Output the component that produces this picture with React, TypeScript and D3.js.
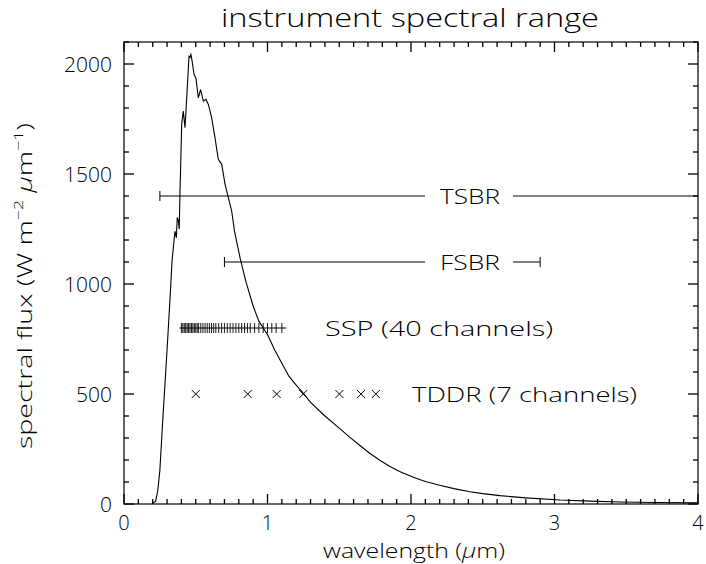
import React from "react";
import * as d3 from "d3";

const wavelength = [0.2, 0.22, 0.235, 0.25, 0.27, 0.3, 0.32, 0.335, 0.355, 0.365, 0.371, 0.378, 0.385, 0.39, 0.397, 0.402, 0.413, 0.425, 0.437, 0.453, 0.46, 0.466, 0.471, 0.48, 0.488, 0.501, 0.518, 0.534, 0.553, 0.571, 0.588, 0.611, 0.634, 0.657, 0.681, 0.704, 0.727, 0.75, 0.77, 0.81, 0.85, 0.9, 0.94, 0.96, 0.98, 1.0, 1.05, 1.1, 1.15, 1.2, 1.25, 1.3, 1.4, 1.5, 1.57, 1.64, 1.71, 1.78, 1.85, 1.92, 2.03, 2.1, 2.2, 2.3, 2.41, 2.5, 2.62, 2.8, 3.04, 3.25, 3.46, 3.7, 4.0];
const flux = [5, 12, 60, 154, 380, 700, 925, 1106, 1240, 1210, 1302, 1290, 1250, 1410, 1591, 1727, 1786, 1710, 1846, 2035, 2030, 2043, 2028, 1990, 1952, 1937, 1846, 1884, 1831, 1839, 1816, 1755, 1665, 1567, 1544, 1454, 1393, 1333, 1240, 1115, 1010, 900, 830, 811, 790, 770, 700, 640, 580, 540, 503, 462, 400, 345, 305, 268, 232, 200, 172, 148, 118, 102, 85, 70, 56, 47, 38, 28, 18, 13, 9, 7, 5];

const xTickLabels = [0, 1, 2, 3, 4];
const yTickLabels = [0, 500, 1000, 1500, 2000];

const tsbrRange = [0.25, 4.0];
const tsbrLevel = 1400;
const fsbrRange = [0.7, 2.9];
const fsbrLevel = 1100;
const sspRange = [0.4, 1.13];
const sspLevel = 800;
const sspChannels = [0.40, 0.41, 0.42, 0.43, 0.44, 0.45, 0.46, 0.47, 0.48, 0.49, 0.50, 0.51, 0.52, 0.535, 0.55, 0.565, 0.58, 0.595, 0.61, 0.625, 0.64, 0.66, 0.68, 0.70, 0.72, 0.74, 0.76, 0.78, 0.80, 0.82, 0.84, 0.86, 0.88, 0.91, 0.94, 0.97, 1.00, 1.03, 1.06, 1.10];
const tddrLevel = 500;
const tddrChannels = [0.5, 0.862, 1.064, 1.249, 1.501, 1.651, 1.755];

export default function App() {
  const W = 706, H = 564;
  const left = 124, right = 698, top = 42, bottom = 504;
  const x = d3.scaleLinear().domain([0, 4]).range([left, right]);
  const y = d3.scaleLinear().domain([0, 2100]).range([bottom, top]);
  const font = "'Open Sans', 'DejaVu Sans', sans-serif";
  const fw = 300;
  const ink = "#000";

  const line = d3.line<number>().x((_, i) => x(wavelength[i])).y((d) => y(d));
  const xMinor = d3.range(0, 41).map((k) => k / 10);
  const yMinor = d3.range(0, 22).map((k) => k * 100);

  const hline = (x0: number, x1: number, lvl: number, key: string) => (
    <line key={key} x1={x0} x2={x1} y1={y(lvl)} y2={y(lvl)} stroke={ink} strokeWidth={1} />
  );
  const cap = (c: number, lvl: number, key: string) => (
    <line key={key} x1={x(c)} x2={x(c)} y1={y(lvl) - 5} y2={y(lvl) + 5} stroke={ink} strokeWidth={1} />
  );

  return (
    <svg width={W} height={H} style={{ position: "absolute", left: 0, top: 0, background: "#fff" }} fontFamily={font}>
      <rect x={0} y={0} width={W} height={H} fill="#fff" />
      <text x={410} y={27} textAnchor="middle" fontSize={25} fontWeight={fw} fill={ink} textLength={378} lengthAdjust="spacingAndGlyphs">instrument spectral range</text>
      {/* frame */}
      <rect x={left} y={top} width={right - left} height={bottom - top} fill="none" stroke={ink} strokeWidth={1.2} />
      <g stroke={ink} strokeWidth={1.3}>
        {xMinor.map((v, i) => {
          const len = i % 10 === 0 ? 10 : 5;
          return (
            <g key={"xt" + i}>
              <line x1={x(v)} x2={x(v)} y1={bottom} y2={bottom - len} />
              <line x1={x(v)} x2={x(v)} y1={top} y2={top + len} />
            </g>
          );
        })}
        {yMinor.map((v, i) => {
          const len = v % 500 === 0 ? 10 : 5;
          return (
            <g key={"yt" + i}>
              <line x1={left} x2={left + len} y1={y(v)} y2={y(v)} />
              <line x1={right} x2={right - len} y1={y(v)} y2={y(v)} />
            </g>
          );
        })}
      </g>
      {xTickLabels.map((v) => (
        <text key={"xl" + v} x={x(v)} y={530} textAnchor="middle" fontSize={20} fontWeight={fw} fill={ink}>{v}</text>
      ))}
      {yTickLabels.map((v) => (
        <text key={"yl" + v} x={112} y={y(v) + 8} textAnchor="end" fontSize={21} fontWeight={fw} fill={ink}>{v}</text>
      ))}
      <text x={414} y={558} textAnchor="middle" fontSize={20} fontWeight={fw} fill={ink} textLength={182} lengthAdjust="spacingAndGlyphs">
        wavelength (<tspan fontStyle="italic">μ</tspan>m)
      </text>
      <text transform={`translate(32, ${286}) rotate(-90)`} textAnchor="middle" fontSize={21} fontWeight={fw} fill={ink} textLength={326} lengthAdjust="spacingAndGlyphs">
        spectral flux (W m<tspan dy={-9} fontSize={13}>−2</tspan><tspan dy={9}> </tspan><tspan fontStyle="italic">μ</tspan>m<tspan dy={-9} fontSize={13}>−1</tspan><tspan dy={9}>)</tspan>
      </text>
      {/* spectrum */}
      <path d={line(flux) || ""} fill="none" stroke={ink} strokeWidth={1.1} />
      {/* TSBR */}
      {hline(x(tsbrRange[0]), 425, tsbrLevel, "t1")}
      {hline(513, x(tsbrRange[1]), tsbrLevel, "t2")}
      {cap(tsbrRange[0], tsbrLevel, "tc")}
      <text x={470} y={y(tsbrLevel) + 8} textAnchor="middle" fontSize={21} fontWeight={fw} fill={ink} textLength={60} lengthAdjust="spacingAndGlyphs">TSBR</text>
      {/* FSBR */}
      {hline(x(fsbrRange[0]), 425, fsbrLevel, "f1")}
      {hline(513, x(fsbrRange[1]), fsbrLevel, "f2")}
      {cap(fsbrRange[0], fsbrLevel, "fc1")}
      {cap(fsbrRange[1], fsbrLevel, "fc2")}
      <text x={470} y={y(fsbrLevel) + 8} textAnchor="middle" fontSize={21} fontWeight={fw} fill={ink} textLength={60} lengthAdjust="spacingAndGlyphs">FSBR</text>
      {/* SSP */}
      {hline(x(sspRange[0]) - 2, x(sspRange[1]), sspLevel, "s1")}
      {sspChannels.map((c, i) => (
        <line key={"ssp" + i} x1={x(c)} x2={x(c)} y1={y(sspLevel) - 5} y2={y(sspLevel) + 5} stroke={ink} strokeWidth={0.9} />
      ))}
      <text x={325} y={y(sspLevel) + 8} fontSize={21} fontWeight={fw} fill={ink} textLength={228} lengthAdjust="spacingAndGlyphs">SSP (40 channels)</text>
      {/* TDDR */}
      {tddrChannels.map((c, i) => (
        <g key={"tddr" + i} stroke={ink} strokeWidth={1}>
          <line x1={x(c) - 4} x2={x(c) + 4} y1={y(tddrLevel) - 4} y2={y(tddrLevel) + 4} />
          <line x1={x(c) - 4} x2={x(c) + 4} y1={y(tddrLevel) + 4} y2={y(tddrLevel) - 4} />
        </g>
      ))}
      <text x={412} y={y(tddrLevel) + 8} fontSize={21} fontWeight={fw} fill={ink} textLength={225} lengthAdjust="spacingAndGlyphs">TDDR (7 channels)</text>
    </svg>
  );
}
